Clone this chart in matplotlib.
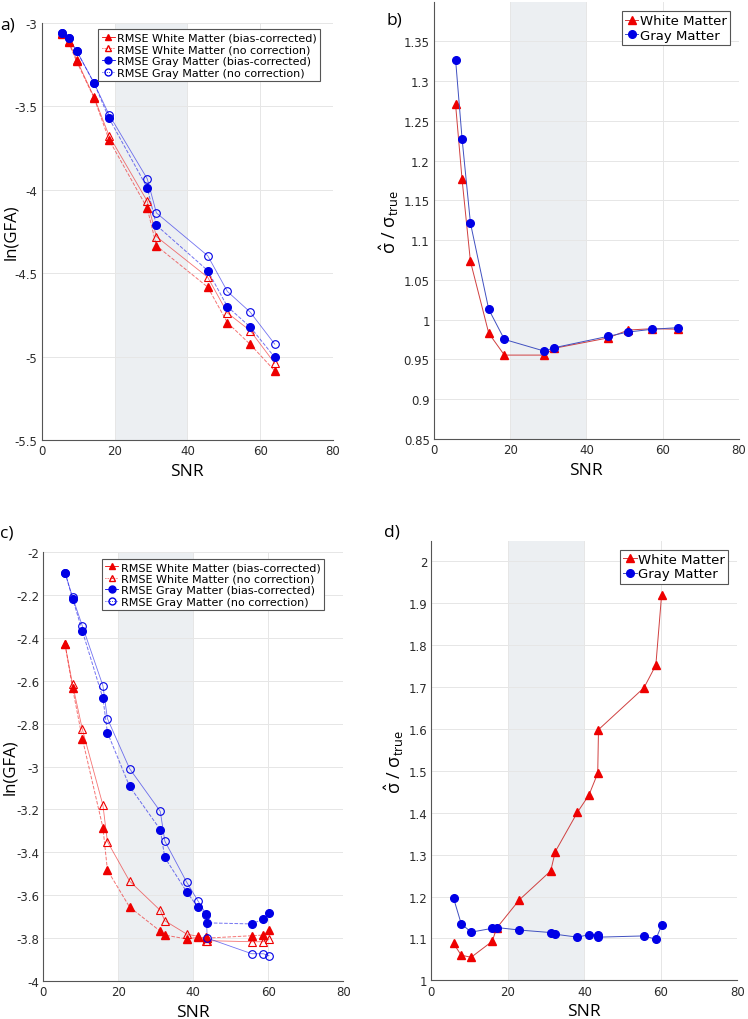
import numpy as np
import matplotlib
matplotlib.use('Agg')
import matplotlib.pyplot as plt

# SNR values for top row (a, b)
snr_top = [5.7, 7.4, 9.6, 14.4, 18.5, 29.0, 31.5, 45.6, 51.0, 57.3, 64.0]
# panel a: ln(GFA) RMSE
a_wm_bc = [-3.066, -3.116, -3.23, -3.45, -3.70, -4.11, -4.335, -4.583, -4.796, -4.927, -5.085]
a_wm_nc = [-3.06, -3.11, -3.22, -3.445, -3.675, -4.068, -4.28, -4.524, -4.738, -4.845, -5.04]
a_gm_bc = [-3.06, -3.092, -3.168, -3.361, -3.571, -3.988, -4.212, -4.484, -4.70, -4.823, -5.004]
a_gm_nc = [-3.06, -3.09, -3.165, -3.36, -3.549, -3.934, -4.138, -4.395, -4.609, -4.734, -4.925]
# panel b: sigma ratio
b_wm = [1.2706, 1.1765, 1.0732, 0.983, 0.9555, 0.9555, 0.964, 0.977, 0.987, 0.9887, 0.988]
b_gm = [1.3269, 1.2277, 1.1214, 1.013, 0.9752, 0.9605, 0.9647, 0.979, 0.9845, 0.988, 0.990]

# SNR values for bottom row (c, d)
snr_bot = [5.8, 7.8, 10.4, 15.9, 17.1, 23.0, 31.2, 32.4, 38.2, 41.2, 43.5, 43.7, 55.6, 58.7, 60.2]
c_wm_bc = [-2.43, -2.634, -2.869, -3.285, -3.483, -3.655, -3.768, -3.786, -3.804, -3.797, -3.797, -3.80, -3.789, -3.786, -3.762]
c_wm_nc = [-2.43, -2.616, -2.825, -3.18, -3.35, -3.534, -3.671, -3.719, -3.781, -3.792, -3.812, -3.812, -3.817, -3.817, -3.805]
c_gm_bc = [-2.095, -2.216, -2.367, -2.681, -2.841, -3.092, -3.294, -3.424, -3.583, -3.656, -3.687, -3.729, -3.734, -3.711, -3.685]
c_gm_nc = [-2.095, -2.21, -2.343, -2.623, -2.776, -3.009, -3.209, -3.347, -3.538, -3.625, -3.69, -3.80, -3.873, -3.873, -3.882]
d_wm = [1.088, 1.060, 1.055, 1.093, 1.125, 1.192, 1.261, 1.307, 1.401, 1.442, 1.494, 1.598, 1.698, 1.752, 1.919]
d_gm = [1.196, 1.135, 1.115, 1.124, 1.126, 1.120, 1.114, 1.110, 1.103, 1.109, 1.109, 1.103, 1.106, 1.098, 1.131]

RED = '#ee0000'
BLUE = '#0000e6'
SHADE = '#eceff2'
TICK = '#2b2b2b'
LABEL_FONT = 'Open Sans'

plt.rcParams['font.family'] = 'DejaVu Sans'

fig = plt.figure(figsize=(7.48, 10.2), dpi=100)

def fmt(v):
    return ('%.2f' % v).rstrip('0').rstrip('.')

def style_axes(ax, ylim, yticks):
    ax.set_xlim(0, 80)
    ax.set_xticks([0, 20, 40, 60, 80])
    ax.set_ylim(*ylim)
    ax.set_yticks(yticks)
    ax.set_yticklabels([fmt(v) for v in yticks])
    ax.axvspan(20, 40, color=SHADE, zorder=0, lw=0)
    ax.grid(True, color='#e6e6e6', lw=0.7, zorder=0.5)
    ax.set_axisbelow(True)
    for s in ['top', 'right']:
        ax.spines[s].set_visible(False)
    for s in ['left', 'bottom']:
        ax.spines[s].set_color('#555555')
        ax.spines[s].set_linewidth(0.8)
    ax.tick_params(labelsize=8.5, colors=TICK, length=0, pad=3)
    ax.set_xlabel('SNR', fontsize=12.5, family=LABEL_FONT, labelpad=4)

def gfa_panel(ax, snr, wm_bc, wm_nc, gm_bc, gm_nc):
    ax.plot(snr, wm_bc, ls='--', color=RED, lw=0.7, alpha=0.55)
    ax.plot(snr, wm_nc, ls='-', color=RED, lw=0.6, alpha=0.55)
    ax.plot(snr, gm_bc, ls='--', color=BLUE, lw=0.7, alpha=0.55)
    ax.plot(snr, gm_nc, ls='-', color=BLUE, lw=0.6, alpha=0.55)
    ax.plot(snr, wm_bc, ls='none', marker='^', ms=5.5, color=RED)
    ax.plot(snr, wm_nc, ls='none', marker='^', ms=5.5, mfc='none', mec=RED, mew=0.8)
    ax.plot(snr, gm_bc, ls='none', marker='o', ms=5.5, color=BLUE)
    ax.plot(snr, gm_nc, ls='none', marker='o', ms=5.5, mfc='none', mec=BLUE, mew=0.8)
    h1, = ax.plot([], [], ls='-', marker='^', ms=5, color=RED, lw=0.6)
    h2, = ax.plot([], [], ls=':', marker='^', ms=5, color=RED, mfc='none', lw=0.6)
    h3, = ax.plot([], [], ls='-', marker='o', ms=5, color=BLUE, lw=0.6)
    h4, = ax.plot([], [], ls=':', marker='o', ms=5, color=BLUE, mfc='none', lw=0.6)
    leg = ax.legend([h1, h2, h3, h4],
                    ['RMSE White Matter (bias-corrected)', 'RMSE White Matter (no correction)',
                     'RMSE Gray Matter (bias-corrected)', 'RMSE Gray Matter (no correction)'],
                    loc='upper left', bbox_to_anchor=(0.195, 0.985), fontsize=8,
                    handlelength=1.2, handletextpad=0.2, borderpad=0.3, labelspacing=0.15,
                    fancybox=False, framealpha=1, edgecolor='#555555', borderaxespad=0)
    leg.get_frame().set_linewidth(0.8)
    ax.set_ylabel('ln(GFA)', fontsize=12, family=LABEL_FONT)

def sigma_panel(ax, snr, wm, gm):
    ax.plot(snr, wm, ls='-', color='#d04040', lw=0.7, marker='^', ms=5.5, mfc=RED, mec=RED,
            label='White Matter')
    ax.plot(snr, gm, ls='-', color='#4050c0', lw=0.7, marker='o', ms=5.5, mfc=BLUE, mec=BLUE,
            label='Gray Matter')
    leg = ax.legend(loc='upper right', bbox_to_anchor=(0.97, 0.98), fontsize=9.5,
                    handlelength=1.0, handletextpad=0.1, borderpad=0.25, labelspacing=0.1,
                    fancybox=False, framealpha=1, edgecolor='#555555', borderaxespad=0)
    leg.get_frame().set_linewidth(0.8)
    ax.set_ylabel(r'$\hat{\mathregular{\sigma}}$ / $\mathregular{\sigma}_{\mathregular{true}}$',
                  fontsize=13, family=LABEL_FONT, labelpad=2)

# a)
ax_a = fig.add_axes([0.0557, 0.5676, 0.3895, 0.4088])
style_axes(ax_a, (-5.5, -3.0), np.arange(-5.5, -2.99, 0.5))
gfa_panel(ax_a, snr_top, a_wm_bc, a_wm_nc, a_gm_bc, a_gm_nc)
ax_a.yaxis.set_label_coords(-0.078, 0.5)

# b)
ax_b = fig.add_axes([0.580, 0.5686, 0.4078, 0.4282])
style_axes(ax_b, (0.85, 1.399), np.arange(0.85, 1.351, 0.05))
sigma_panel(ax_b, snr_top, b_wm, b_gm)

# c)
ax_c = fig.add_axes([0.0579, 0.0373, 0.401, 0.4203])
style_axes(ax_c, (-4.0, -2.0), np.arange(-4.0, -1.99, 0.2))
gfa_panel(ax_c, snr_bot, c_wm_bc, c_wm_nc, c_gm_bc, c_gm_nc)
ax_c.yaxis.set_label_coords(-0.084, 0.5)

# d)
ax_d = fig.add_axes([0.5767, 0.0379, 0.409, 0.4307])
style_axes(ax_d, (1.0, 2.048), np.arange(1.0, 2.001, 0.1))
sigma_panel(ax_d, snr_bot, d_wm, d_gm)

# panel letters
for lab, x, y in [('a)', 0.0, 0.975), ('b)', 0.517, 0.980), ('c)', 0.0, 0.477), ('d)', 0.513, 0.478)]:
    fig.text(x, y, lab, fontsize=12.5, family=LABEL_FONT, va='center', ha='left')

fig.savefig('out.png', dpi=100)
